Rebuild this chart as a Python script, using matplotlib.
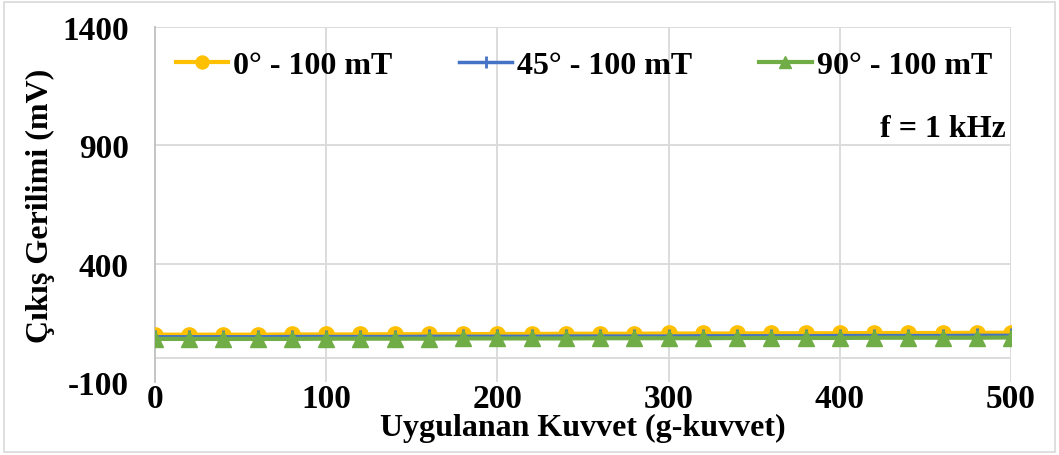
import numpy as np
import matplotlib
matplotlib.use("Agg")
import matplotlib.pyplot as plt
from matplotlib.patches import Rectangle

plt.rcParams['font.family'] = ['Liberation Serif', 'DejaVu Serif']
plt.rcParams['font.weight'] = 'bold'
plt.rcParams['axes.unicode_minus'] = False

# applied force (g-force), every 20 g
force = list(range(0, 501, 20))

# output voltage (mV) for each field orientation
v_0deg = [100, 100, 100, 100, 101, 101, 101, 102, 102, 102, 103, 103, 104,
          104, 104, 105, 105, 105, 106, 106, 106, 107, 107, 107, 108, 108]
v_45deg = [91, 91, 91, 91, 92, 92, 92, 92, 93, 93, 93, 93, 94,
           94, 94, 94, 95, 95, 95, 95, 96, 96, 96, 96, 97, 97]
v_90deg = [82, 82, 82, 82, 82, 83, 83, 83, 83, 84, 84, 84, 84,
           85, 85, 85, 85, 86, 86, 86, 86, 87, 87, 87, 87, 88]

labels = ['0° - 100 mT', '45° - 100 mT', '90° - 100 mT']
colors = ['#FFC000', '#4472C4', '#70AD47']
yticks = [-100, 400, 900, 1400]

fig = plt.figure(figsize=(10.59, 4.56), dpi=100)
ax = fig.add_axes([155 / 1059, 1 - 383 / 456, (1011 - 155) / 1059, (383 - 28) / 456])

ax.plot(force, v_0deg, color=colors[0], lw=3, marker='o', ms=11, label=labels[0], zorder=3)
ax.plot(force, v_45deg, color=colors[1], lw=2.5, marker='+', ms=10, mew=2, label=labels[1], zorder=4)
ax.plot(force, v_90deg, color=colors[2], lw=3, marker='^', ms=11, label=labels[2], zorder=5)

ax.set_xlim(0, 500)
ax.set_ylim(-100, 1400)
ax.set_xticks(range(0, 501, 100))
ax.set_yticks(yticks)
ax.tick_params(length=0, labelsize=24)
ax.tick_params(axis='x', pad=1)
ax.tick_params(axis='y', pad=19)
for lab in ax.get_xticklabels() + ax.get_yticklabels():
    lab.set_fontweight('bold')

# gridlines, including the zero line Excel draws as the horizontal axis
for x in range(100, 501, 100):
    ax.axvline(x, color='#D9D9D9', lw=1.3, zorder=0)
for y in [0, 400, 900, 1400]:
    ax.axhline(y, color='#D9D9D9', lw=1.3, zorder=0)
for s in ['top', 'right', 'bottom']:
    ax.spines[s].set_visible(False)
ax.spines['left'].set_color('#BFBFBF')
ax.spines['left'].set_linewidth(1.3)

ax.set_xlabel('Uygulanan Kuvvet (g-kuvvet)', fontsize=23, fontweight='bold', labelpad=-1)
ax.set_ylabel('Çıkış Gerilimi (mV)', fontsize=23, fontweight='bold', labelpad=5)

ax.legend(loc='upper left', ncol=3, frameon=False, prop={'weight': 'bold', 'size': 23},
          bbox_to_anchor=(11 / 856, 1 - 14 / 355), borderaxespad=0.0, borderpad=0.3,
          handlelength=1.65, handletextpad=0.15, columnspacing=2.1, markerscale=0.85)

ax.text(0.994, 0.713, 'f = 1 kHz', transform=ax.transAxes, ha='right', va='center',
        fontsize=23, fontweight='bold')

# chart area border
fig.patches.append(Rectangle((0.004, 0.006), 0.992, 0.988, transform=fig.transFigure,
                             fill=False, edgecolor='#D9D9D9', lw=1.2))

fig.savefig('out.png', dpi=100)
